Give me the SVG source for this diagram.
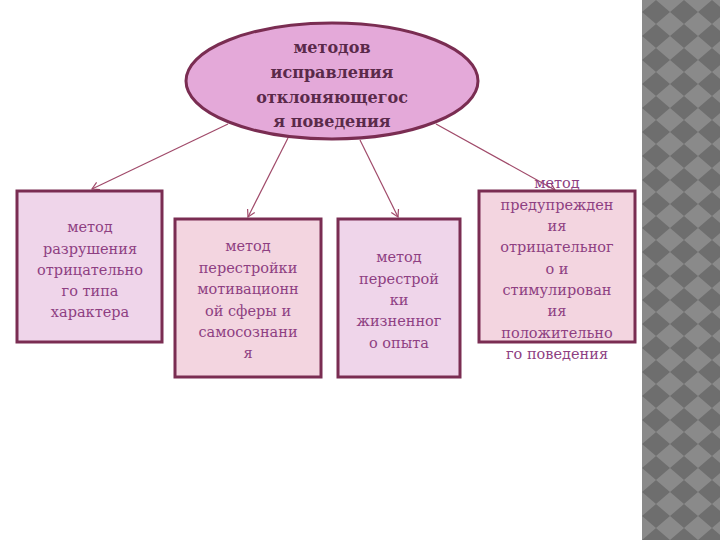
<svg xmlns="http://www.w3.org/2000/svg" width="720" height="540" viewBox="0 0 720 540">
<defs>
<pattern id="dia" width="28" height="24" patternUnits="userSpaceOnUse" x="642" y="0">
<rect width="28" height="24" fill="#8a8a8a"/>
<polygon points="14,0 28,12 14,24 0,12" fill="#6e6e6e"/>
</pattern>
<marker id="ar" markerWidth="10" markerHeight="10" refX="8" refY="5" orient="auto" markerUnits="userSpaceOnUse">
<path d="M1,1 L8,5 L1,9" fill="none" stroke="#a04a6a" stroke-width="1.2"/>
</marker>
<style>
.box{stroke:#7a2d52;stroke-width:3}
.t{font-family:"DejaVu Serif",serif;font-size:14.5px;fill:#8e3f82;text-anchor:middle}
.h{font-family:"DejaVu Serif",serif;font-size:16px;font-weight:bold;fill:#5a2a4a;text-anchor:middle}
.c{stroke:#a04a6a;stroke-width:1.2;fill:none;marker-end:url(#ar)}
</style>
</defs>
<rect width="720" height="540" fill="#fff"/>
<rect x="642" y="0" width="78" height="540" fill="url(#dia)"/>
<g id="connectors">
<line class="c" x1="228" y1="124" x2="92" y2="189"/>
<line class="c" x1="288" y1="138" x2="248" y2="217"/>
<line class="c" x1="360" y1="140" x2="398" y2="217"/>
<line class="c" x1="436" y1="124" x2="555" y2="190"/>
</g>
<g id="root">
<ellipse cx="332" cy="81" rx="146" ry="58" fill="#e4a9d9" stroke="#7a2d52" stroke-width="3"/>
<text class="h" x="332" y="53">методов</text>
<text class="h" x="332" y="78">исправления</text>
<text class="h" x="332" y="103">отклоняющегос</text>
<text class="h" x="332" y="127">я поведения</text>
</g>
<g id="n1">
<rect class="box" x="17" y="191" width="145" height="151" fill="#efd5ea"/>
<text class="t" x="90" y="232">метод</text>
<text class="t" x="90" y="254">разрушения</text>
<text class="t" x="90" y="275">отрицательно</text>
<text class="t" x="90" y="296">го типа</text>
<text class="t" x="90" y="317">характера</text>
</g>
<g id="n2">
<rect class="box" x="175" y="219" width="146" height="158" fill="#f3d5e0"/>
<text class="t" x="248" y="251">метод</text>
<text class="t" x="248" y="273">перестройки</text>
<text class="t" x="248" y="294">мотивационн</text>
<text class="t" x="248" y="316">ой сферы и</text>
<text class="t" x="248" y="337">самосознани</text>
<text class="t" x="248" y="358">я</text>
</g>
<g id="n3">
<rect class="box" x="338" y="219" width="122" height="158" fill="#efd5ea"/>
<text class="t" x="399" y="262">метод</text>
<text class="t" x="399" y="284">перестрой</text>
<text class="t" x="399" y="305">ки</text>
<text class="t" x="399" y="326">жизненног</text>
<text class="t" x="399" y="348">о опыта</text>
</g>
<g id="n4">
<rect class="box" x="479" y="191" width="156" height="151" fill="#f3d5e0"/>
<text class="t" x="557" y="188">метод</text>
<text class="t" x="557" y="210">предупрежден</text>
<text class="t" x="557" y="231">ия</text>
<text class="t" x="557" y="252">отрицательног</text>
<text class="t" x="557" y="274">о и</text>
<text class="t" x="557" y="295">стимулирован</text>
<text class="t" x="557" y="316">ия</text>
<text class="t" x="557" y="338">положительно</text>
<text class="t" x="557" y="359">го поведения</text>
</g>
</svg>
